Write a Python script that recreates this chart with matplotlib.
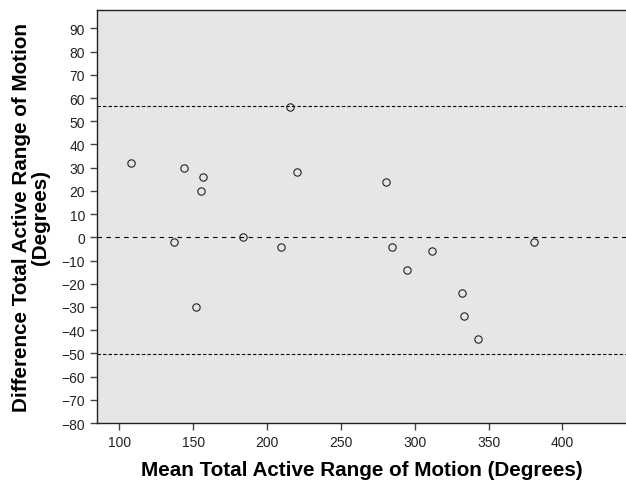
import matplotlib
matplotlib.use("Agg")
import matplotlib.pyplot as plt

# mean vs. difference (Bland-Altman)
mean_rom = [107.9, 143.5, 156.6, 155.4, 215.8, 220.0, 137.2, 183.6, 209.3, 152.0,
            280.4, 284.9, 311.7, 294.6, 332.2, 333.3, 343.0, 380.9]
diff_rom = [32, 30, 26, 20, 56, 28, -2, 0, -4, -30,
            24, -4, -6, -14, -24, -34, -44, -2]

upper_loa = 56.5
bias = 0
lower_loa = -50.4

plt.rcParams['font.family'] = ['Liberation Sans', 'DejaVu Sans']

fig = plt.figure(figsize=(6.26, 4.81), dpi=100)
ax = fig.add_axes([0.155, 0.1185, 0.845, 0.8585])
ax.set_facecolor('#e6e6e6')

ax.axhline(upper_loa, color='black', linestyle=(0, (3, 2)), linewidth=0.8)
ax.axhline(bias, color='black', linestyle=(0, (4, 4)), linewidth=0.8)
ax.axhline(lower_loa, color='black', linestyle=(0, (3, 2)), linewidth=0.8)

ax.plot(mean_rom, diff_rom, 'o', markersize=5.3, markerfacecolor='none',
        markeredgecolor='#222222', markeredgewidth=0.8)

ax.set_xlim(84.9, 443)
ax.set_ylim(-80, 97.9)
ax.set_xticks(range(100, 401, 50))
ax.set_yticks(range(-80, 91, 10))

ax.spines['right'].set_visible(False)
for s in ['left', 'bottom', 'top']:
    ax.spines[s].set_color('#222222')
    ax.spines[s].set_linewidth(1.0)
ax.tick_params(direction='out', length=5, width=1, color='#444444',
               labelsize=10, labelcolor='#222222')

ax.set_xlabel('Mean Total Active Range of Motion (Degrees)', fontsize=14.9,
              fontweight='bold', labelpad=8)
ax.set_ylabel('Difference Total Active Range of Motion\n(Degrees)', fontsize=14.9,
              fontweight='bold', labelpad=8, linespacing=1.0)

fig.savefig('out.png', dpi=100)
